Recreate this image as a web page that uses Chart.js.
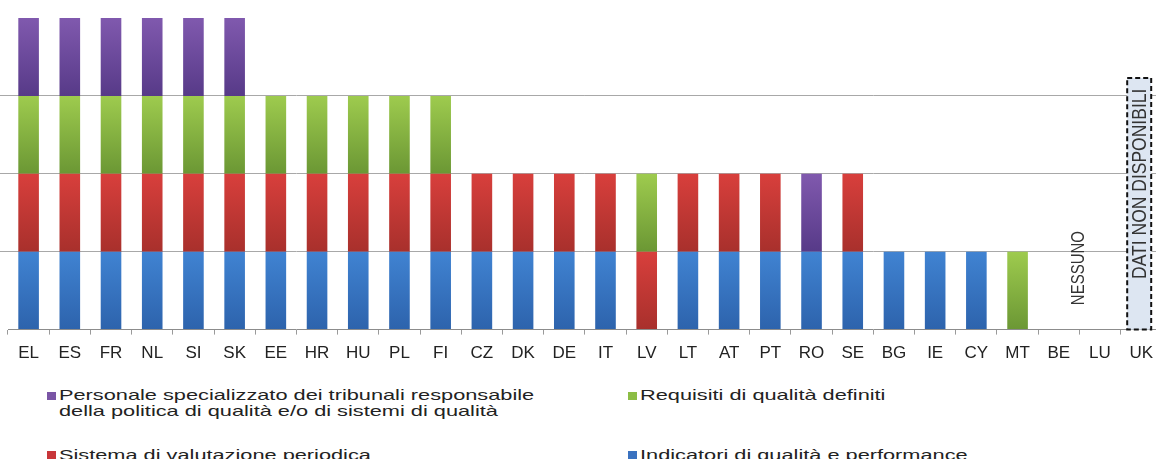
<!DOCTYPE html>
<html>
<head>
<meta charset="utf-8">
<script src="https://cdn.jsdelivr.net/npm/chart.js@4.4.0/dist/chart.umd.min.js"></script>
<style>
  html, body { margin: 0; padding: 0; background: #fff; overflow: hidden; }
  body { width: 1156px; height: 459px; position: relative; }
  #wrap { position: absolute; left: 0; top: 0; width: 1162px; height: 373px; }
  .leg { position: absolute; font-family: 'Liberation Sans', Arial, sans-serif; font-size: 15px;
         line-height: 16px; color: #222; white-space: nowrap; transform-origin: 0 0; transform: scaleX(1.45); }
  .sw { position: absolute; width: 9px; height: 8px; }
</style>
</head>
<body>
<div id="wrap"><canvas id="chart"></canvas></div>

<span class="sw" style="left:47px; top:392px; background:#7a55a5"></span>
<div class="leg" style="left:59px; top:387px">Personale specializzato dei tribunali responsabile<br>della politica di qualità e/o di sistemi di qualità</div>
<span class="sw" style="left:628px; top:392px; background:#8cbd45"></span>
<div class="leg" style="left:640px; top:387px">Requisiti di qualità definiti</div>
<span class="sw" style="left:47px; top:451px; background:#c8363a"></span>
<div class="leg" style="left:59px; top:447px">Sistema di valutazione periodica</div>
<span class="sw" style="left:628px; top:451px; background:#3a72c0"></span>
<div class="leg" style="left:640px; top:447px">Indicatori di qualità e performance</div>

<script>
const categories = ['EL', 'ES', 'FR', 'NL', 'SI', 'SK', 'EE', 'HR', 'HU', 'PL', 'FI', 'CZ', 'DK', 'DE',
  'IT', 'LV', 'LT', 'AT', 'PT', 'RO', 'SE', 'BG', 'IE', 'CY', 'MT', 'BE', 'LU', 'UK'];

// 1 = the country has the element, 0 = it does not
const indicatori = [1, 1, 1, 1, 1, 1, 1, 1, 1, 1, 1, 1, 1, 1, 1, 0, 1, 1, 1, 1, 1, 1, 1, 1, 0, 0, 0, 0];
const sistema    = [1, 1, 1, 1, 1, 1, 1, 1, 1, 1, 1, 1, 1, 1, 1, 1, 1, 1, 1, 0, 1, 0, 0, 0, 0, 0, 0, 0];
const requisiti  = [1, 1, 1, 1, 1, 1, 1, 1, 1, 1, 1, 0, 0, 0, 0, 1, 0, 0, 0, 0, 0, 0, 0, 0, 1, 0, 0, 0];
const personale  = [1, 1, 1, 1, 1, 1, 0, 0, 0, 0, 0, 0, 0, 0, 0, 0, 0, 0, 0, 1, 0, 0, 0, 0, 0, 0, 0, 0];

const yTicks = [0, 1, 2, 3, 4];

// notes placed on the chart
const noneLabel = 'NESSUNO';
const noDataLabel = 'DATI NON DISPONIBILI';
const noDataTop = 3.23;

// vertical gradient for one stacked segment
function shade(top, bottom) {
  return (ctx) => {
    const chart = ctx.chart;
    if (!chart.chartArea || ctx.dataIndex === undefined) return bottom;
    const ds = chart.data.datasets;
    let base = 0;
    for (let i = 0; i < ctx.datasetIndex; i++) base += ds[i].data[ctx.dataIndex] || 0;
    const v = ds[ctx.datasetIndex].data[ctx.dataIndex];
    if (!v) return bottom;
    const y = chart.scales.y;
    const g = chart.ctx.createLinearGradient(0, y.getPixelForValue(base + v), 0, y.getPixelForValue(base));
    g.addColorStop(0, top);
    g.addColorStop(1, bottom);
    return g;
  };
}

const notes = {
  id: 'notes',
  afterDatasetsDraw(chart) {
    const { ctx, scales: { x, y } } = chart;
    const font = "'Liberation Sans', Arial, sans-serif";

    // "no data" box on UK
    const ux = x.getPixelForValue(categories.indexOf('UK')) - 2;
    const top = y.getPixelForValue(noDataTop);
    const bot = y.getPixelForValue(0);
    ctx.save();
    ctx.fillStyle = '#dde6f2';
    ctx.fillRect(ux - 12, top, 24, bot - top);
    ctx.setLineDash([5, 3]);
    ctx.lineWidth = 2;
    ctx.strokeStyle = '#111';
    ctx.strokeRect(ux - 12, top, 24, bot - top);
    ctx.restore();

    const vtext = (txt, cx, cy, size, sx) => {
      ctx.save();
      ctx.translate(cx, cy);
      ctx.scale(sx, 1);
      ctx.rotate(-Math.PI / 2);
      ctx.font = size + 'px ' + font;
      ctx.fillStyle = '#333';
      ctx.textAlign = 'center';
      ctx.textBaseline = 'middle';
      ctx.fillText(txt, 0, 0);
      ctx.restore();
    };
    vtext(noDataLabel, ux + 1, (top + bot) / 2 - 20, 17.5, 1.15);
    const bx = (x.getPixelForValue(categories.indexOf('BE')) + x.getPixelForValue(categories.indexOf('LU'))) / 2;
    vtext(noneLabel, bx, y.getPixelForValue(0.79), 15, 1.2);
  }
};

new Chart(document.getElementById('chart'), {
  type: 'bar',
  data: {
    labels: categories,
    datasets: [
      { label: 'Indicatori di qualità e performance', data: indicatori, backgroundColor: shade('#4083d2', '#2d63ac') },
      { label: 'Sistema di valutazione periodica', data: sistema, backgroundColor: shade('#d83f3c', '#a8302c') },
      { label: 'Requisiti di qualità definiti', data: requisiti, backgroundColor: shade('#9ecb4e', '#6b9734') },
      { label: 'Personale specializzato dei tribunali responsabile della politica di qualità e/o di sistemi di qualità',
        data: personale, backgroundColor: shade('#8059ae', '#573a88') }
    ]
  },
  options: {
    responsive: true,
    maintainAspectRatio: false,
    animation: false,
    layout: { padding: { top: 18, left: 8, right: 0, bottom: 0 } },
    datasets: { bar: { categoryPercentage: 1, barPercentage: 0.5, borderWidth: 0 } },
    plugins: { legend: { display: false }, tooltip: { enabled: false } },
    scales: {
      x: {
        stacked: true,
        border: { color: '#8c8c8c' },
        grid: { offset: true, drawOnChartArea: false, tickLength: 5, color: '#9a9a9a' },
        ticks: { color: '#222', padding: 9, maxRotation: 0, autoSkip: false,
                 font: { family: "'Liberation Sans', Arial, sans-serif", size: 17 } }
      },
      y: {
        stacked: true,
        min: yTicks[0],
        max: yTicks[yTicks.length - 1],
        afterBuildTicks: (s) => { s.ticks = yTicks.map(v => ({ value: v })); },
        afterFit: (s) => { s.width = 0; },
        border: { display: false },
        ticks: { display: false },
        grid: { color: (c) => (c.tick.value === 0 || c.tick.value === 4) ? 'rgba(0,0,0,0)' : '#a8a8a8' }
      }
    }
  },
  plugins: [notes]
});
</script>
</body>
</html>
